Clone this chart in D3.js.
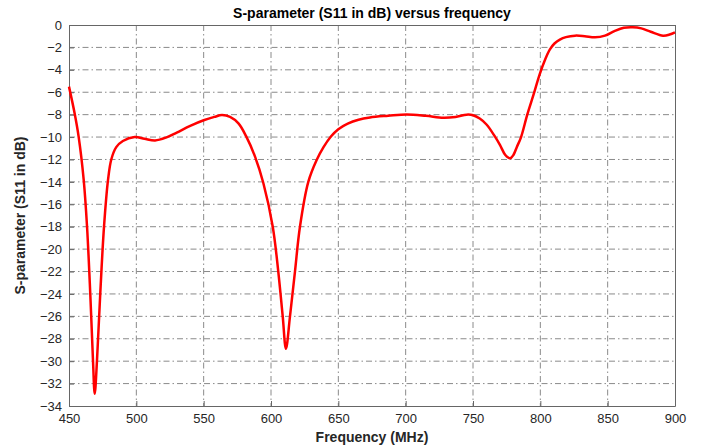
<!DOCTYPE html>
<html><head><meta charset="utf-8">
<script src="https://cdn.jsdelivr.net/npm/d3@7"></script>
<style>body{margin:0;background:#fff}svg{display:block}</style>
</head><body><svg id="c" width="704" height="448"></svg>
<script>
const freq = [450,454.2,457.2,460.9,463.4,465.8,467.8,469.1,470.8,473.2,476,479,481.4,485.1,490,498.8,506,513.9,522,530,540,550,558,563.6,569.6,576,581.4,588,594.3,601.3,605.4,608.7,611.1,614.1,617.8,621.5,627.7,633.9,639,644.5,650,657,665,673.5,687,700.8,715,728,737,745.3,750,755,760.2,766,770,774,777.5,780,782.5,785.7,790.3,795,799.5,803.5,807,810.5,814.5,819,825.8,833,840.6,848,855,862,868.6,875,882,891.1,896,900];
const s11 = [-5.5,-7.9,-10,-13.8,-18,-24,-29.9,-32.9,-29.9,-24,-18,-13.8,-12,-10.9,-10.35,-10.0,-10.15,-10.3,-10.05,-9.6,-9.0,-8.5,-8.2,-8.04,-8.2,-8.8,-9.9,-11.7,-14.1,-18,-22,-26,-28.9,-26,-22,-18,-14,-12.05,-10.9,-9.95,-9.3,-8.8,-8.45,-8.25,-8.1,-7.98,-8.1,-8.27,-8.2,-8.0,-8.05,-8.35,-8.9,-9.9,-10.7,-11.6,-11.9,-11.6,-10.9,-10,-8,-6.2,-4.4,-3.1,-2.2,-1.65,-1.3,-1.08,-0.95,-1.0,-1.1,-0.95,-0.55,-0.25,-0.2,-0.3,-0.6,-0.95,-0.85,-0.65];
const xTicks = [450,500,550,600,650,700,750,800,850,900];
const yTicks = d3.range(0,-35,-2);
const titleText = "S-parameter (S11 in dB) versus frequency";
const xLabel = "Frequency (MHz)";
const yLabel = "S-parameter (S11 in dB)";

const svg = d3.select("#c");
const L=69,R=675,T=25,B=406;
const x = d3.scaleLinear().domain([450,900]).range([L,R]);
const y = d3.scaleLinear().domain([-34,0]).range([B,T]);
const font = "'Liberation Sans', Arial, Helvetica, sans-serif";

// grid
const g = svg.append("g");
g.selectAll(".vg").data(xTicks.slice(1,-1)).join("line")
  .attr("x1",d=>x(d)).attr("x2",d=>x(d)).attr("y1",T).attr("y2",B)
  .attr("stroke","#8a8a8a").attr("stroke-width",1).attr("stroke-dasharray","6,3,1.5,3");
g.selectAll(".hg").data(yTicks.slice(1,-1)).join("line")
  .attr("y1",d=>y(d)).attr("y2",d=>y(d)).attr("x1",L).attr("x2",R)
  .attr("stroke","#8a8a8a").attr("stroke-width",1).attr("stroke-dasharray","6,3,1.5,3");

// axes
const xa = svg.append("g").attr("transform",`translate(0,${B})`)
  .call(d3.axisBottom(x).tickValues(xTicks).tickSize(-5).tickPadding(8).tickFormat(d3.format("d")));
const ya = svg.append("g").attr("transform",`translate(${L},0)`)
  .call(d3.axisLeft(y).tickValues(yTicks).tickSize(-5).tickPadding(7).tickFormat(d=>d===0?"0":d3.format("d")(d)));
[xa,ya].forEach(a=>{
  a.select(".domain").attr("stroke","#666");
  a.selectAll(".tick line").attr("stroke","#666");
  a.selectAll("text").attr("font-family",font).attr("font-size",13).attr("fill","#262626");
});
svg.append("line").attr("x1",L).attr("x2",R).attr("y1",T+0.5).attr("y2",T+0.5).attr("stroke","#666");
svg.append("line").attr("x1",R+0.5).attr("x2",R+0.5).attr("y1",T).attr("y2",B).attr("stroke","#666");

// curve
const data = freq.map((f,i)=>[f,s11[i]]);
svg.append("path").datum(data)
  .attr("d", d3.line().x(d=>x(d[0])).y(d=>y(d[1])).curve(d3.curveCatmullRom.alpha(0.5)))
  .attr("fill","none").attr("stroke","#ff0000").attr("stroke-width",2.5).attr("stroke-linejoin","round");

// labels
svg.append("text").attr("x",(L+R)/2).attr("y",18).attr("text-anchor","middle")
  .attr("font-family",font).attr("font-weight","bold").attr("font-size",14).attr("fill","#000").text(titleText);
svg.append("text").attr("x",(L+R)/2).attr("y",442).attr("text-anchor","middle")
  .attr("font-family",font).attr("font-weight","bold").attr("font-size",14).attr("fill","#262626").text(xLabel);
svg.append("text").attr("transform",`translate(25,${(T+B)/2}) rotate(-90)`).attr("text-anchor","middle")
  .attr("font-family",font).attr("font-weight","bold").attr("font-size",14).attr("fill","#262626").text(yLabel);
</script></body></html>
